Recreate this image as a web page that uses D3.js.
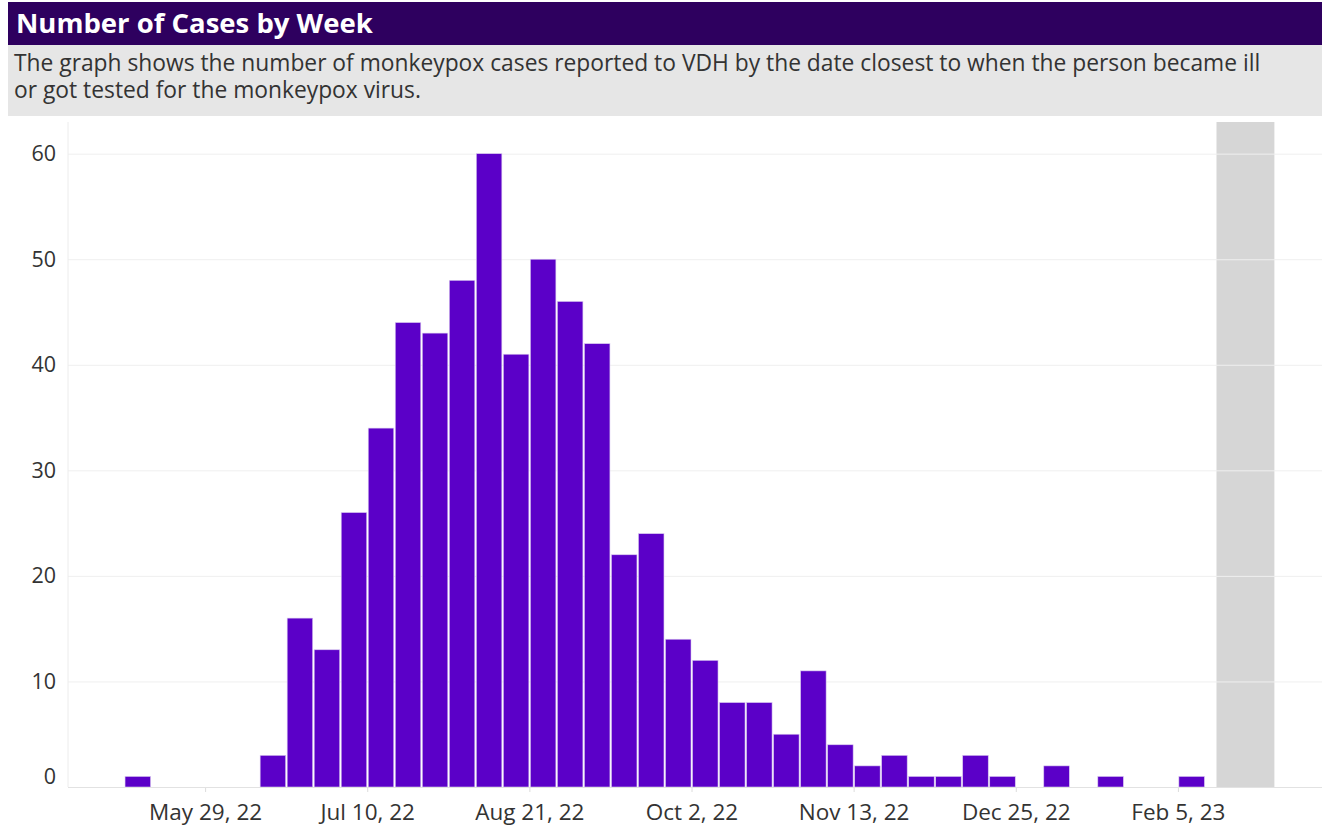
<!doctype html>
<html>
  <head>
    <meta charset="utf-8">
    <title>Number of Cases by Week</title>
    <style>
      body { margin: 0; background: #fff; }
      svg { display: block; font-family: "Open Sans", "DejaVu Sans", sans-serif; }
      .grid line { stroke: #efefef; }
      .grid text { fill: #333; font-size: 21.5px; font-family: "Open Sans", sans-serif; }
      .xaxis text { fill: #333; font-size: 22.5px; font-family: "Open Sans", sans-serif; }
      .xaxis line { stroke: #dcdcdc; }
    </style>
  </head>
  <body>
    <div id="chart"></div>
    <script src="https://cdn.jsdelivr.net/npm/d3@7"></script>
    <script>
      // week start dates (Sunday) and reported cases
      var weeks = [
        '2022-05-08', '2022-05-15', '2022-05-22', '2022-05-29', '2022-06-05',
        '2022-06-12', '2022-06-19', '2022-06-26', '2022-07-03', '2022-07-10',
        '2022-07-17', '2022-07-24', '2022-07-31', '2022-08-07', '2022-08-14',
        '2022-08-21', '2022-08-28', '2022-09-04', '2022-09-11', '2022-09-18',
        '2022-09-25', '2022-10-02', '2022-10-09', '2022-10-16', '2022-10-23',
        '2022-10-30', '2022-11-06', '2022-11-13', '2022-11-20', '2022-11-27',
        '2022-12-04', '2022-12-11', '2022-12-18', '2022-12-25', '2023-01-01',
        '2023-01-08', '2023-01-15', '2023-01-22', '2023-01-29', '2023-02-05'
      ];
      var cases = [
        1, 0, 0, 0, 0,
        3, 16, 13, 26, 34,
        44, 43, 48, 60, 41,
        50, 46, 42, 22, 24,
        14, 12, 8, 8, 5,
        11, 4, 2, 3, 1,
        1, 3, 1, 0, 2,
        0, 1, 0, 0, 1
      ];
      var xTicks = ['2022-05-29', '2022-07-10', '2022-08-21', '2022-10-02', '2022-11-13', '2022-12-25', '2023-02-05'];
      var yTicks = [0, 10, 20, 30, 40, 50, 60];
      var xDomain = ['2022-04-24', '2023-03-12'];
      var pendingBand = ['2023-02-15', '2023-03-02']; // grey shaded recent weeks

      var title = 'Number of Cases by Week';
      var subtitle = [
        'The graph shows the number of monkeypox cases reported to VDH by the date closest to when the person became ill',
        'or got tested for the monkeypox virus.'
      ];

      (function() {
        var width = 1322, height = 829;
        var plotLeft = 68, plotTop = 122, plotBottom = 787;
        var parse = d3.utcParse('%Y-%m-%d');

        var svg = d3.select('#chart').append('svg')
          .attr('width', width)
          .attr('height', height);

        // header
        svg.append('rect').attr('x', 8).attr('y', 2).attr('width', width - 8).attr('height', 43).attr('fill', '#2e005f');
        svg.append('rect').attr('x', 8).attr('y', 45).attr('width', width - 8).attr('height', 71).attr('fill', '#e6e6e6');
        svg.append('text')
          .attr('x', 16).attr('y', 33)
          .attr('fill', '#fff')
          .style('font-size', '27.5px').style('font-weight', 'bold')
          .text(title);
        svg.selectAll('.sub').data(subtitle).enter().append('text')
          .attr('class', 'sub')
          .attr('x', 14).attr('y', function(d, i) { return 71 + i * 27; })
          .attr('fill', '#333')
          .style('font-size', '22.8px')
          .text(function(d) { return d; });

        var x = d3.scaleUtc().domain(xDomain.map(parse)).range([70, 1313]);
        var y = d3.scaleLinear().domain([0, 63]).range([plotBottom, plotTop]);

        // grey band for incomplete weeks
        svg.append('rect')
          .attr('x', x(parse(pendingBand[0])))
          .attr('y', y(63))
          .attr('width', x(parse(pendingBand[1])) - x(parse(pendingBand[0])))
          .attr('height', y(0) - y(63))
          .attr('fill', '#d6d6d6');

        // gridlines + y labels
        var grid = svg.append('g').attr('class', 'grid')
          .attr('transform', 'translate(' + plotLeft + ',0)')
          .call(d3.axisLeft(y).tickValues(yTicks).tickSize(-(width - plotLeft)).tickPadding(12));
        grid.select('.domain').remove();
        grid.selectAll('text').attr('dy', function(d) { return d === 0 ? '-0.15em' : '0.32em'; });

        // y axis line
        svg.append('line')
          .attr('x1', plotLeft).attr('x2', plotLeft)
          .attr('y1', plotTop).attr('y2', plotBottom)
          .attr('stroke', '#ececec');

        // bars
        svg.selectAll('.bar').data(weeks).enter().append('rect')
          .attr('class', 'bar')
          .attr('x', function(d) { return x(parse(d)) + 1; })
          .attr('width', function(d) { return x(d3.utcDay.offset(parse(d), 7)) - x(parse(d)) - 1.5; })
          .attr('y', function(d, i) { return y(cases[i]); })
          .attr('height', function(d, i) { return y(0) - y(cases[i]); })
          .attr('fill', '#5b00c8')
          .attr('stroke', '#d9c8f0')
          .attr('stroke-width', 0.6);

        // x axis
        var xa = svg.append('g').attr('class', 'xaxis')
          .attr('transform', 'translate(0,' + plotBottom + ')')
          .call(d3.axisBottom(x).tickValues(xTicks.map(parse))
            .tickFormat(d3.utcFormat('%b %-d, %y'))
            .tickSize(5).tickPadding(12));
        xa.select('.domain').remove();
        svg.append('line')
          .attr('x1', plotLeft).attr('x2', width)
          .attr('y1', plotBottom + 0.5).attr('y2', plotBottom + 0.5)
          .attr('stroke', '#e2e2e2');
      })();
    </script>
  </body>
</html>
